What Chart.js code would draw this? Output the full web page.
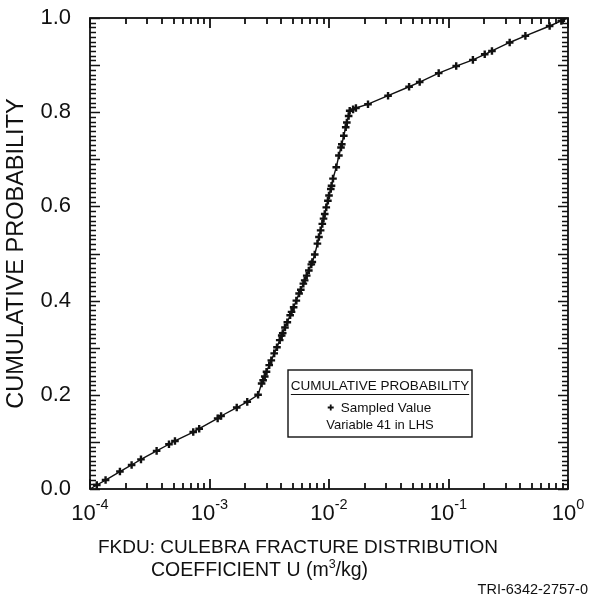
<!DOCTYPE html>
<html>
<head>
<meta charset="utf-8">
<script src="https://cdn.jsdelivr.net/npm/chart.js@4/dist/chart.umd.min.js"></script>
<style>
  html, body { margin: 0; padding: 0; background: #fff; }
  #wrap { width: 589px; height: 603px; }
</style>
</head>
<body>
<div id="wrap"><canvas id="c" width="589" height="603"></canvas></div>
<script>
// ---- data ----
// sampled values of FKDU (m^3/kg), sorted, with their cumulative probabilities
const sampledValues = [
  1.0e-4,
  1.14e-4, 1.35e-4, 1.78e-4, 2.23e-4, 2.67e-4, 3.61e-4, 4.58e-4, 5.14e-4,
  7.31e-4, 8.20e-4, 1.17e-3, 1.25e-3, 1.69e-3, 2.07e-3, 2.55e-3,
  2.73e-3, 2.81e-3, 2.90e-3, 3.00e-3, 3.16e-3, 3.29e-3, 3.48e-3, 3.67e-3,
  3.87e-3, 4.02e-3, 4.10e-3, 4.28e-3, 4.48e-3, 4.73e-3, 4.86e-3, 5.06e-3,
  5.33e-3, 5.62e-3, 5.81e-3, 6.10e-3, 6.26e-3, 6.51e-3, 6.78e-3, 7.11e-3,
  7.25e-3, 7.60e-3, 8.00e-3, 8.24e-3, 8.51e-3, 8.79e-3, 9.00e-3, 9.21e-3,
  9.49e-3, 9.79e-3, 1.00e-2, 1.035e-2, 1.05e-2, 1.08e-2, 1.15e-2, 1.21e-2,
  1.26e-2, 1.28e-2, 1.33e-2, 1.38e-2, 1.41e-2, 1.46e-2, 1.49e-2,
  1.59e-2, 1.68e-2, 2.12e-2, 3.12e-2, 4.68e-2, 5.74e-2, 8.28e-2, 0.116,
  0.160, 0.201, 0.231, 0.325, 0.440, 0.702, 0.879,
  1.0
];
const cumulativeProb = [
  0.0,
  0.0085, 0.019, 0.037, 0.051, 0.063, 0.081, 0.095, 0.102,
  0.121, 0.128, 0.150, 0.155, 0.173, 0.185, 0.200,
  0.224, 0.231, 0.239, 0.249, 0.263, 0.273, 0.288, 0.301,
  0.316, 0.326, 0.331, 0.343, 0.354, 0.369, 0.376, 0.386,
  0.400, 0.415, 0.423, 0.436, 0.443, 0.453, 0.464, 0.477,
  0.482, 0.498, 0.521, 0.535, 0.549, 0.563, 0.574, 0.584,
  0.598, 0.612, 0.623, 0.637, 0.644, 0.659, 0.683, 0.708,
  0.725, 0.732, 0.750, 0.768, 0.778, 0.792, 0.803,
  0.806, 0.809, 0.817, 0.835, 0.854, 0.864, 0.883, 0.898,
  0.911, 0.923, 0.930, 0.948, 0.962, 0.983, 0.994,
  1.0
];
const xTickExponents = ['-4', '-3', '-2', '-1', '0'];
const xTickValues = [1e-4, 1e-3, 1e-2, 1e-1, 1];
const yTickStep = 0.2;

const FONT = '"Liberation Sans", Arial, Helvetica, sans-serif';
const INK = '#111';

const points = sampledValues.map((v, i) => ({ x: v, y: cumulativeProb[i] }));
const lastIdx = points.length - 1;

const decorPlugin = {
  id: 'decor',
  afterDraw(chart) {
    const ctx = chart.ctx;
    const a = chart.chartArea;
    const xs = chart.scales.x, ys = chart.scales.y;
    ctx.save();
    ctx.strokeStyle = INK;
    ctx.fillStyle = INK;
    // frame
    ctx.lineWidth = 1.8;
    ctx.strokeRect(a.left, a.top, a.right - a.left, a.bottom - a.top);
    // x ticks (bottom and top, pointing inward)
    ctx.lineWidth = 1.8;
    ctx.beginPath();
    for (let d = -4; d <= 0; d++) {
      for (let m = 1; m <= 9; m++) {
        const v = m * Math.pow(10, d);
        if (v > 1.0000001) break;
        const px = Math.round(xs.getPixelForValue(v));
        const len = m === 1 ? 10 : 6;
        ctx.moveTo(px, a.bottom); ctx.lineTo(px, a.bottom - len);
        ctx.moveTo(px, a.top); ctx.lineTo(px, a.top + len);
      }
    }
    ctx.stroke();
    // y ticks (left and right, pointing inward), every 0.01
    ctx.lineWidth = 1.4;
    ctx.beginPath();
    for (let k = 0; k <= 100; k++) {
      const py = Math.round(ys.getPixelForValue(k / 100)) + 0.5;
      const len = (k % 10 === 0) ? 10 : 6;
      ctx.moveTo(a.left, py); ctx.lineTo(a.left + len, py);
      ctx.moveTo(a.right, py); ctx.lineTo(a.right - len, py);
    }
    ctx.stroke();

    // x tick labels with superscript exponents
    ctx.textBaseline = 'alphabetic';
    ctx.textAlign = 'left';
    xTickValues.forEach((v, i) => {
      const px = xs.getPixelForValue(v);
      ctx.font = '22px ' + FONT;
      const w1 = ctx.measureText('10').width;
      ctx.font = '14.5px ' + FONT;
      const w2 = ctx.measureText(xTickExponents[i]).width;
      const x0 = px - (w1 + w2) / 2;
      ctx.font = '22px ' + FONT;
      ctx.fillText('10', x0, a.bottom + 31);
      ctx.font = '14.5px ' + FONT;
      ctx.fillText(xTickExponents[i], x0 + w1, a.bottom + 20);
    });

    // x axis title (two lines)
    ctx.font = '19px ' + FONT;
    ctx.fillText('FKDU: CULEBRA FRACTURE DISTRIBUTION', 98, a.bottom + 64);
    let tx = 151;
    const ty = a.bottom + 87;
    ctx.font = '19.5px ' + FONT;
    const part1 = 'COEFFICIENT U (m';
    ctx.fillText(part1, tx, ty);
    tx += ctx.measureText(part1).width;
    ctx.font = '12.5px ' + FONT;
    ctx.fillText('3', tx, ty - 8);
    tx += ctx.measureText('3').width;
    ctx.font = '19.5px ' + FONT;
    ctx.fillText('/kg)', tx, ty);

    // figure id
    ctx.font = '14.5px ' + FONT;
    ctx.textAlign = 'right';
    ctx.fillText('TRI-6342-2757-0', 588, 594);

    // legend box
    const bx = a.left + 198, by = a.top + 352, bw = 184, bh = 67;
    ctx.lineWidth = 1.4;
    ctx.strokeRect(bx, by, bw, bh);
    const cx = bx + bw / 2;
    ctx.textAlign = 'center';
    ctx.font = '13.5px ' + FONT;
    ctx.fillText('CUMULATIVE PROBABILITY', cx, by + 20);
    const tw = ctx.measureText('CUMULATIVE PROBABILITY').width;
    ctx.lineWidth = 1.2;
    ctx.beginPath();
    ctx.moveTo(cx - tw / 2, by + 24.5); ctx.lineTo(cx + tw / 2, by + 24.5);
    ctx.stroke();
    ctx.font = '13.5px ' + FONT;
    ctx.textAlign = 'left';
    const sv = 'Sampled Value';
    const svw = ctx.measureText(sv).width;
    const sx = cx - svw / 2 + 6;
    ctx.fillText(sv, sx, by + 42);
    // legend marker
    ctx.lineWidth = 1.8;
    ctx.beginPath();
    ctx.moveTo(sx - 13, by + 37.5); ctx.lineTo(sx - 7, by + 37.5);
    ctx.moveTo(sx - 10, by + 34.5); ctx.lineTo(sx - 10, by + 40.5);
    ctx.stroke();
    ctx.textAlign = 'center';
    ctx.font = '13px ' + FONT;
    ctx.fillText('Variable 41 in LHS', cx, by + 59);
    ctx.restore();
  }
};

new Chart(document.getElementById('c'), {
  type: 'line',
  data: {
    datasets: [{
      label: 'Sampled Value',
      data: points,
      borderColor: INK,
      borderWidth: 1.4,
      backgroundColor: INK,
      pointStyle: 'cross',
      pointRadius: (c) => (c.dataIndex === 0 || c.dataIndex === lastIdx) ? 0 : 3.8,
      pointBorderWidth: 2.4,
      pointBorderColor: INK,
      tension: 0,
      fill: false
    }]
  },
  options: {
    responsive: false,
    animation: false,
    events: [],
    layout: { padding: { top: 18, right: 21, bottom: 0, left: 0 } },
    plugins: { legend: { display: false }, tooltip: { enabled: false } },
    scales: {
      x: {
        type: 'logarithmic',
        min: 1e-4, max: 1,
        afterFit: (s) => { s.height = 114; s.paddingLeft = 0; s.paddingRight = 0; },
        grid: { display: false, drawTicks: false },
        border: { display: false },
        ticks: { display: false }
      },
      y: {
        type: 'linear',
        min: 0, max: 1,
        afterFit: (s) => { s.width = 90; s.paddingTop = 0; s.paddingBottom = 0; },
        grid: { display: false, drawTicks: false },
        border: { display: false },
        ticks: {
          stepSize: yTickStep,
          padding: 19,
          color: INK,
          font: { family: FONT, size: 22 },
          callback: (v) => Number(v).toFixed(1)
        },
        title: {
          display: true,
          text: 'CUMULATIVE PROBABILITY',
          color: INK,
          font: { family: FONT, size: 23.5 },
          padding: { top: 2, bottom: 0 }
        }
      }
    }
  },
  plugins: [decorPlugin]
});
</script>
</body>
</html>
